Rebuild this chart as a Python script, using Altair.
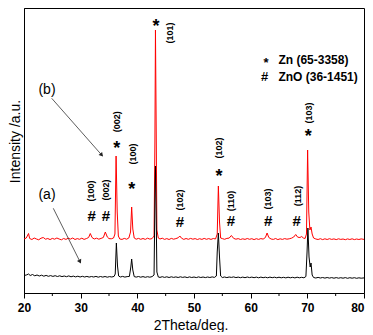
import altair as alt
import pandas as pd

# ---- spectrum (a): black ----
a_x = [20.0, 20.4, 20.8, 21.1, 21.5, 21.9, 22.3, 22.7, 23.1, 23.5, 23.9, 24.3, 24.7, 25.1, 25.5, 25.9,
       26.3, 26.7, 27.1, 27.5, 27.9, 28.3, 28.7, 29.1, 29.5, 29.9, 30.3, 30.7, 31.1, 31.5, 31.9, 32.3,
       32.7, 33.1, 33.5, 33.9, 34.3, 34.7, 35.1, 35.5, 35.9, 36.1, 36.3, 36.5, 36.7, 37.0, 37.4, 37.8,
       38.2, 38.6, 38.85, 39.0, 39.2, 39.45, 39.8, 40.2, 40.6, 41.0, 41.4, 41.8, 42.2, 42.6, 42.95, 43.1,
       43.2, 43.32, 43.45, 43.7, 44.0, 44.4, 44.8, 45.2, 45.6, 46.0, 46.4, 46.8, 47.2, 47.6, 48.0, 48.4,
       48.8, 49.2, 49.6, 50.0, 50.4, 50.8, 51.2, 51.6, 52.0, 52.4, 52.8, 53.2, 53.6, 53.95, 54.1, 54.3,
       54.5, 54.7, 55.0, 55.4, 55.8, 56.2, 56.6, 57.0, 57.4, 57.8, 58.2, 58.6, 59.0, 59.4, 59.8, 60.2,
       60.6, 61.0, 61.4, 61.8, 62.2, 62.6, 63.0, 63.4, 63.8, 64.2, 64.6, 65.0, 65.4, 65.8, 66.2, 66.6,
       67.0, 67.4, 67.8, 68.2, 68.6, 69.0, 69.4, 69.75, 69.95, 70.1, 70.3, 70.5, 70.65, 70.85, 71.1, 71.5,
       71.9, 72.3, 72.7, 73.1, 73.5, 73.9, 74.3, 74.7, 75.1, 75.5, 75.9, 76.3, 76.7, 77.1, 77.5, 77.9,
       78.3, 78.7, 79.1, 79.5, 80.0]
a_y = [16.5, 17.0, 18.0, 16.5, 17.5, 16.2, 17.0, 16.0, 16.8, 15.8, 16.6, 15.7, 16.4, 15.6, 16.3, 15.5,
       16.2, 15.4, 16.0, 15.3, 16.1, 15.2, 15.9, 15.1, 15.8, 15.0, 15.7, 15.0, 15.6, 14.9, 15.5, 15.0,
       15.6, 14.8, 15.5, 14.9, 15.5, 14.8, 15.4, 15.0, 15.6, 18.0, 49.0, 26.0, 16.0, 15.0, 15.6, 14.9,
       15.4, 15.6, 25.0, 33.0, 22.0, 15.4, 14.9, 15.5, 14.8, 15.4, 14.7, 15.3, 14.8, 15.4, 17.0, 90.0,
       126.0, 80.0, 20.0, 15.0, 14.6, 15.3, 14.6, 15.2, 14.5, 15.2, 14.6, 15.1, 14.5, 15.2, 14.6, 15.1,
       14.4, 15.1, 14.5, 15.0, 14.4, 15.1, 14.5, 15.0, 14.4, 15.0, 14.5, 15.1, 14.6, 16.0, 40.0, 59.0,
       35.0, 16.0, 14.5, 15.0, 14.4, 15.0, 14.6, 15.1, 14.4, 14.9, 14.3, 14.9, 14.3, 15.0, 14.4, 14.9,
       14.3, 14.9, 14.2, 14.9, 14.3, 14.8, 14.2, 14.9, 14.3, 14.8, 14.2, 14.8, 14.2, 14.7, 14.1, 14.8,
       14.2, 14.7, 14.1, 14.8, 14.2, 14.7, 14.2, 15.5, 40.0, 64.0, 35.0, 25.0, 29.0, 17.0, 14.5, 14.0,
       14.6, 14.0, 14.5, 13.9, 14.5, 13.9, 14.4, 13.8, 14.4, 13.8, 14.3, 13.8, 14.4, 13.7, 14.3, 13.8,
       14.3, 13.7, 14.2, 13.8, 14.1]

# ---- spectrum (b): red ----
b_x = [20.0, 20.4, 20.8, 21.0, 21.4, 21.8, 22.2, 22.6, 23.0, 23.4, 23.8, 24.2, 24.6, 25.0, 25.4, 25.8,
       26.2, 26.6, 27.0, 27.4, 27.8, 28.2, 28.6, 29.0, 29.4, 29.8, 30.2, 30.6, 31.0, 31.4, 31.7, 32.0,
       32.4, 32.8, 33.2, 33.6, 34.0, 34.35, 34.7, 35.0, 35.4, 35.8, 36.05, 36.25, 36.45, 36.65, 36.9, 37.3,
       37.7, 38.1, 38.5, 38.8, 39.0, 39.2, 39.45, 39.8, 40.2, 40.6, 41.0, 41.4, 41.8, 42.2, 42.6, 42.95,
       43.1, 43.2, 43.32, 43.45, 43.7, 44.0, 44.4, 44.8, 45.2, 45.6, 46.0, 46.4, 46.8, 47.2, 47.5, 47.8,
       48.2, 48.6, 49.0, 49.4, 49.8, 50.2, 50.6, 51.0, 51.4, 51.8, 52.2, 52.6, 53.0, 53.4, 53.8, 54.1,
       54.3, 54.5, 54.7, 55.0, 55.4, 55.8, 56.2, 56.6, 57.0, 57.4, 57.8, 58.2, 58.6, 59.0, 59.4, 59.8,
       60.2, 60.6, 61.0, 61.4, 61.8, 62.2, 62.6, 62.9, 63.2, 63.6, 64.0, 64.4, 64.8, 65.2, 65.6, 66.0,
       66.4, 66.8, 67.2, 67.6, 67.95, 68.3, 68.7, 69.0, 69.3, 69.6, 69.85, 70.05, 70.25, 70.45, 70.65, 70.85,
       71.1, 71.5, 71.9, 72.3, 72.7, 73.1, 73.5, 73.9, 74.3, 74.7, 75.1, 75.5, 75.9, 76.3, 76.7, 77.1,
       77.5, 77.9, 78.3, 78.7, 79.1, 79.5, 80.0]
b_y = [53.0, 54.0, 58.5, 53.5, 52.5, 54.0, 53.0, 52.2, 53.8, 54.5, 52.8, 53.5, 52.4, 53.6, 52.8, 54.0,
       53.0, 52.2, 53.5, 52.6, 53.8, 52.9, 54.0, 52.5, 53.4, 52.7, 53.8, 52.6, 53.4, 54.5, 58.5, 54.5,
       53.0, 53.8, 52.8, 53.6, 54.5, 60.0, 55.0, 53.4, 53.2, 54.0, 58.0, 136.0, 80.0, 56.0, 53.0, 52.6,
       53.6, 52.8, 54.0, 60.0, 85.0, 63.0, 54.0, 52.8, 53.6, 52.7, 53.5, 52.6, 53.8, 52.9, 53.4, 56.0,
       150.0, 262.0, 170.0, 62.0, 54.0, 53.0, 53.8, 52.6, 53.4, 52.5, 53.6, 52.8, 53.4, 54.2, 56.0, 53.8,
       52.6, 53.5, 52.7, 53.6, 52.8, 53.4, 52.5, 53.3, 52.6, 53.6, 52.7, 53.4, 52.6, 53.5, 53.0, 58.0,
       106.0, 70.0, 54.0, 53.4, 52.7, 53.6, 53.9, 56.5, 53.6, 52.8, 53.4, 52.5, 53.2, 52.6, 53.5, 52.7,
       53.3, 52.4, 53.3, 52.6, 53.4, 52.9, 54.5, 59.0, 54.5, 53.0, 52.6, 53.5, 52.4, 53.2, 52.6, 53.4,
       52.8, 53.2, 53.8, 55.0, 57.5, 54.8, 54.5, 55.5, 54.0, 53.5, 58.0, 142.0, 80.0, 62.0, 65.0, 58.0,
       54.0, 53.0, 52.5, 53.3, 52.4, 53.2, 52.5, 53.3, 52.6, 53.1, 52.4, 53.2, 52.6, 53.0, 52.3, 53.1,
       52.5, 53.2, 52.4, 53.0, 52.5, 53.1, 52.6]

# ---- annotations ----
star_x = [36.36, 39.0, 43.29, 54.41, 70.17]
star_y = [138.0, 97.0, 260.3, 110.3, 150.3]
hash_x = [31.95, 34.47, 47.53, 56.53, 63.11, 68.12]
hash_y = [70.6, 70.6, 64.9, 65.6, 65.6, 65.6]
hkl_x = [36.36, 39.18, 45.76, 31.82, 34.42, 47.53, 54.41, 56.53, 63.0, 68.3, 70.34]
hkl_y = [170.3, 138.0, 259.0, 101.0, 102.0, 92.0, 144.0, 91.0, 93.0, 96.0, 179.0]
hkl_text = ["(002)", "(100)", "(101)", "(100)", "(002)", "(102)", "(102)", "(110)", "(103)", "(112)", "(103)"]
tag_x = [24.06, 24.06]
tag_y = [202.0, 97.0]
tag_text = ["(b)", "(a)"]
arrow_x = [24.89, 25.17]
arrow_y = [193.7, 83.7]
arrow_x2 = [33.71, 29.88]
arrow_y2 = [137.0, 30.3]
arrow_angle = [138.6, 153.4]
legend_sym = ["*", "#"]
legend_sym_x = [62.7, 62.45]
legend_sym_y = [225.5, 211.0]
legend_text = ["Zn  (65-3358)", "ZnO (36-1451)"]
legend_text_x = [64.9, 64.9]
legend_text_y = [227.7, 211.0]
major_ticks = [20, 30, 40, 50, 60, 70, 80]
minor_ticks = [25, 35, 45, 55, 65, 75]

FONT = "Liberation Sans"

xs = alt.Scale(domain=[20, 80], nice=False, zero=False)
ys = alt.Scale(domain=[-1, 284], nice=False, zero=False)

x_axis = alt.Axis(
    values=major_ticks, grid=False, tickSize=5, tickColor="black", domainColor="black",
    labelFont=FONT, labelFontSize=12, labelFontWeight="bold", labelColor="black", labelPadding=4,
    labelFlush=False,
    labelAlign={"expr": "datum.value >= 80 ? 'right' : 'center'"},
    title="2Theta/deg.", titleFont=FONT, titleFontSize=14, titleFontWeight="normal", titleColor="black",
    titleX=166.5, titleY=36, titleAlign="center", titleBaseline="alphabetic",
)
y_axis = alt.Axis(
    ticks=False, labels=False, grid=False, domainColor="black",
    title="Intensity /a.u.", titleFont=FONT, titleFontSize=14, titleFontWeight="normal", titleColor="black",
    titleX=-9, titleY=133, titleAlign="center", titleBaseline="middle", titleAngle=270,
)


def X(field):
    return alt.X(field, scale=xs, axis=x_axis)


def Y(field):
    return alt.Y(field, scale=ys, axis=y_axis)


red = alt.Chart(pd.DataFrame({"x": b_x, "y": b_y})).mark_line(color="#ff0000", strokeWidth=1).encode(
    x=X("x:Q"), y=Y("y:Q")
)
black = alt.Chart(pd.DataFrame({"x": a_x, "y": a_y})).mark_line(color="black", strokeWidth=1).encode(
    x=X("x:Q"), y=Y("y:Q")
)

minor = alt.Chart(pd.DataFrame({"x": minor_ticks})).mark_rule(color="black", strokeWidth=1).encode(
    x=X("x:Q"), y=alt.value(285), y2=alt.value(288)
)


def txt(df, **kw):
    return alt.Chart(df).mark_text(font=FONT, color="black", **kw).encode(
        x=X("x:Q"), y=Y("y:Q"), text="t:N"
    )


stars = txt(pd.DataFrame({"x": star_x, "y": star_y, "t": ["*"] * len(star_x)}),
            fontSize=18, fontWeight="bold", align="center", baseline="alphabetic")
hashes = txt(pd.DataFrame({"x": hash_x, "y": hash_y, "t": ["#"] * len(hash_x)}),
             fontSize=15, fontWeight="bold", align="center", baseline="alphabetic")
hkl = txt(pd.DataFrame({"x": hkl_x, "y": hkl_y, "t": hkl_text}),
          fontSize=9, fontWeight="bold", align="center", baseline="middle", angle=270)
tags = txt(pd.DataFrame({"x": tag_x, "y": tag_y, "t": tag_text}),
           fontSize=14, align="center", baseline="middle")
leg_sym = txt(pd.DataFrame({"x": legend_sym_x, "y": legend_sym_y, "t": legend_sym}),
              fontSize=13, fontWeight="bold", align="center", baseline="alphabetic")
leg_txt = txt(pd.DataFrame({"x": legend_text_x, "y": legend_text_y, "t": legend_text}),
              fontSize=12, fontWeight="bold", align="left", baseline="alphabetic")

arr_df = pd.DataFrame({"x": arrow_x, "y": arrow_y, "x2": arrow_x2, "y2": arrow_y2, "a": arrow_angle})
arrows = alt.Chart(arr_df).mark_rule(color="#333333", strokeWidth=0.8).encode(
    x=X("x:Q"), y=Y("y:Q"), x2="x2:Q", y2="y2:Q"
)
heads = alt.Chart(arr_df).mark_point(shape="triangle-up", filled=True, color="#222222", size=22, opacity=1).encode(
    x=X("x2:Q"), y=Y("y2:Q"), angle=alt.Angle("a:Q", scale=None)
)

chart = alt.layer(red, black, minor, arrows, heads, stars, hashes, hkl, tags, leg_sym, leg_txt).properties(
    width=340, height=285,
    autosize=alt.AutoSizeParams(type="none"),
    padding={"left": 16, "top": 0, "right": 1, "bottom": 39},
).configure_view(stroke="black", strokeWidth=1)

chart.save("out.html", embed_options={"renderer": "svg", "actions": False})
